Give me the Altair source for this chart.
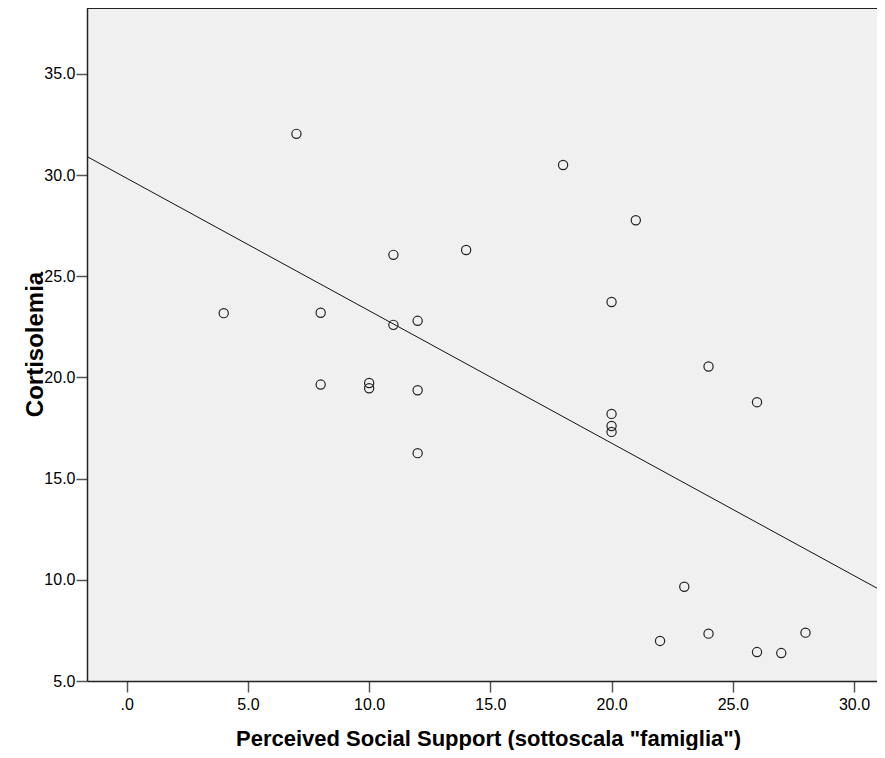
import altair as alt
import pandas as pd

support = [4, 7, 8, 8, 10, 10, 11, 11, 12, 12, 12, 14, 18, 20, 20, 20, 20,
           21, 22, 23, 24, 24, 26, 26, 27, 28]
cortisol = [23.18, 32.04, 23.2, 19.65, 19.73, 19.47, 26.06, 22.6, 22.8, 19.37,
            16.26, 26.3, 30.5, 23.73, 18.2, 17.6, 17.31, 27.77, 6.98, 9.66,
            20.54, 7.34, 18.78, 6.43, 6.38, 7.39]
x_ticks = [0, 5, 10, 15, 20, 25, 30]
y_ticks = [5, 10, 15, 20, 25, 30, 35]

df = pd.DataFrame({"support": support, "cortisol": cortisol})

FONT = "Liberation Sans"
W, H = 790, 673
X_DOMAIN = [-1.64, 30.95]
Y_DOMAIN = [5, 38.26]

x_enc = alt.X(
    "support:Q",
    scale=alt.Scale(domain=X_DOMAIN, nice=False, zero=False),
    axis=alt.Axis(
        title='Perceived Social Support (sottoscala "famiglia")',
        values=x_ticks,
        labelExpr="datum.value == 0 ? '.0' : format(datum.value, '.1f')",
        labelPadding=4,
        titleX=401,
        titleY=64,
        titleBaseline="alphabetic",
        titleFontSize=22,
    ),
)
y_enc = alt.Y(
    "cortisol:Q",
    scale=alt.Scale(domain=Y_DOMAIN, nice=False, zero=False),
    axis=alt.Axis(
        title="Cortisolemia",
        values=y_ticks,
        format=".1f",
        labelPadding=1,
        titleX=-52,
        titleY=336,
        titleBaseline="middle",
        titleFontSize=24,
    ),
)

line = alt.Chart(df).transform_regression(
    "support", "cortisol", extent=[-2, 32]
).mark_line(color="#111111", strokeWidth=1, clip=True).encode(x=x_enc, y=y_enc)

points = alt.Chart(df).mark_point(
    shape="circle", filled=False, size=85, stroke="#222222", strokeWidth=1.2, opacity=1
).encode(x=x_enc, y=y_enc)

top_border = alt.Chart(df).mark_rule(color="#222222", strokeWidth=1.5).encode(
    x=alt.value(0), x2=alt.value(W + 10), y=alt.value(0)
)

chart = alt.layer(line, points, top_border).properties(
    width=W,
    height=H,
    autosize=alt.AutoSizeParams(type="none"),
    padding={"left": 79, "top": 0, "right": 0, "bottom": 69},
    background="#FFFFFF",
).configure_view(
    fill="#F0F0F0", strokeWidth=0
).configure_axis(
    grid=False,
    tickSize=11,
    tickWidth=1.5,
    tickColor="#555555",
    domainColor="#222222",
    domainWidth=1.5,
    labelFont=FONT,
    labelFontSize=16,
    labelColor="#000000",
    titleFont=FONT,
    titleFontWeight="bold",
    titleColor="#000000",
)

chart.save("out.html", embed_options={"renderer": "svg", "actions": False})
